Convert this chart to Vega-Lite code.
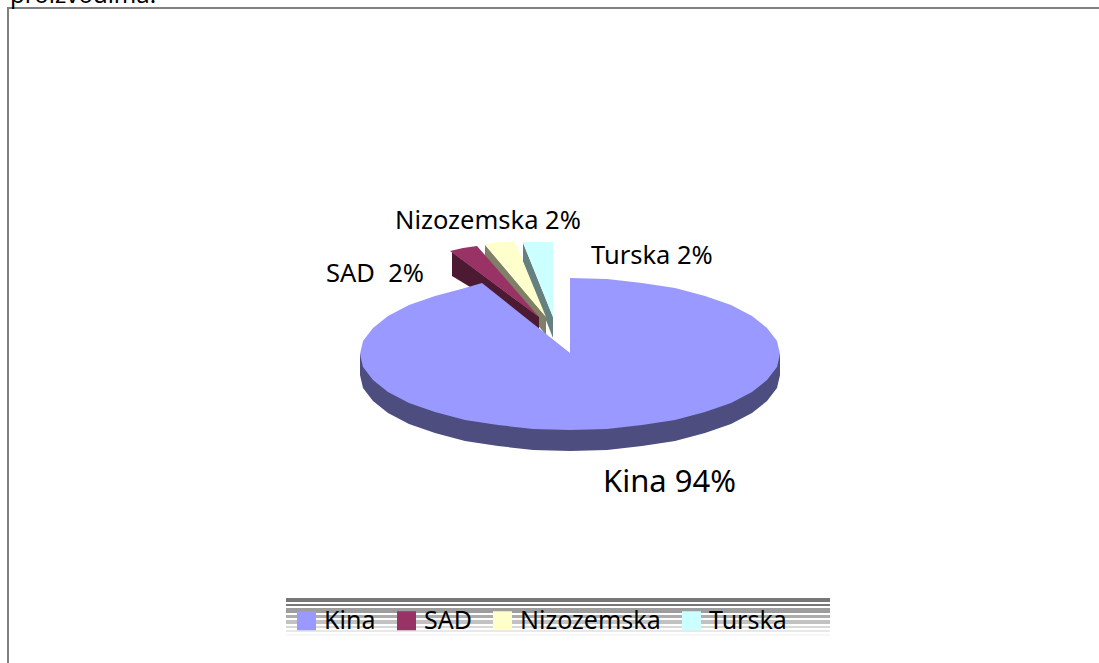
{"$schema":"https://vega.github.io/schema/vega-lite/v6.json","width":1099,"height":663,"padding":0,"autosize":"none","background":"white","config":{"view":{"stroke":null}},
"datasets":{
"frame":[{"x":-562,"y":-309},{"x":-562,"y":346},{"x":529,"y":346}],
"bands":[{"x":-284,"x2":260,"y":-244,"y2":-248,"shade":128},{"x":-284,"x2":260,"y":-250,"y2":-252,"shade":128},{"x":-284,"x2":260,"y":-254,"y2":-259,"shade":165},{"x":-284,"x2":260,"y":-261,"y2":-264,"shade":180},{"x":-284,"x2":260,"y":-266,"y2":-270,"shade":200},{"x":-284,"x2":260,"y":-272,"y2":-274,"shade":220},{"x":-284,"x2":260,"y":-276,"y2":-278,"shade":235},{"x":-284,"x2":260,"y":-280,"y2":-282,"shade":248}],
"wedges":[
{"face":"Turska strana","i":1,"x":-47,"y":111},{"face":"Turska strana","i":2,"x":-17,"y":37},{"face":"Turska strana","i":3,"x":-17,"y":16},{"face":"Turska strana","i":4,"x":-47,"y":92},
{"face":"Nizozemska strana","i":1,"x":-85,"y":109},{"face":"Nizozemska strana","i":2,"x":-24,"y":37},{"face":"Nizozemska strana","i":3,"x":-24,"y":19},{"face":"Nizozemska strana","i":4,"x":-85,"y":92},
{"face":"SAD strana","i":1,"x":-118,"y":102},{"face":"SAD strana","i":2,"x":-31,"y":37},{"face":"SAD strana","i":3,"x":-31,"y":25},{"face":"SAD strana","i":4,"x":-118,"y":78},
{"face":"Turska","i":1,"x":-47,"y":112},{"face":"Turska","i":2,"x":-17,"y":112},{"face":"Turska","i":3,"x":-17,"y":37},
{"face":"Nizozemska","i":1,"x":-85,"y":110},{"face":"Nizozemska","i":2,"x":-70,"y":112},{"face":"Nizozemska","i":3,"x":-55,"y":112},{"face":"Nizozemska","i":4,"x":-24,"y":37},
{"face":"SAD","i":1,"x":-120,"y":103},{"face":"SAD","i":2,"x":-107,"y":106},{"face":"SAD","i":3,"x":-93,"y":108},{"face":"SAD","i":4,"x":-31,"y":37}
],
"kinaSide":[{"i":1,"x":210,"y":0},{"i":2,"x":210,"y":-21},{"i":3,"x":207,"y":-34},{"i":4,"x":197,"y":-47},{"i":5,"x":182,"y":-59},{"i":6,"x":161,"y":-70},{"i":7,"x":135,"y":-79},{"i":8,"x":105,"y":-87},{"i":9,"x":72,"y":-92},{"i":10,"x":37,"y":-96},{"i":11,"x":0,"y":-97},{"i":12,"x":-37,"y":-96},{"i":13,"x":-72,"y":-92},{"i":14,"x":-105,"y":-87},{"i":15,"x":-135,"y":-79},{"i":16,"x":-161,"y":-70},{"i":17,"x":-182,"y":-59},{"i":18,"x":-197,"y":-47},{"i":19,"x":-207,"y":-34},{"i":20,"x":-210,"y":-21},{"i":21,"x":-210,"y":0}],
"kinaTop":[{"i":1,"x":0,"y":76},{"i":2,"x":37,"y":75},{"i":3,"x":72,"y":71},{"i":4,"x":105,"y":66},{"i":5,"x":135,"y":58},{"i":6,"x":161,"y":49},{"i":7,"x":182,"y":38},{"i":8,"x":197,"y":26},{"i":9,"x":207,"y":13},{"i":10,"x":210,"y":0},{"i":11,"x":207,"y":-13},{"i":12,"x":197,"y":-26},{"i":13,"x":182,"y":-38},{"i":14,"x":161,"y":-49},{"i":15,"x":135,"y":-58},{"i":16,"x":105,"y":-66},{"i":17,"x":72,"y":-71},{"i":18,"x":37,"y":-75},{"i":19,"x":0,"y":-76},{"i":20,"x":-37,"y":-75},{"i":21,"x":-72,"y":-71},{"i":22,"x":-105,"y":-66},{"i":23,"x":-135,"y":-58},{"i":24,"x":-161,"y":-49},{"i":25,"x":-182,"y":-38},{"i":26,"x":-197,"y":-26},{"i":27,"x":-207,"y":-13},{"i":28,"x":-210,"y":0},{"i":29,"x":-207,"y":13},{"i":30,"x":-197,"y":26},{"i":31,"x":-182,"y":38},{"i":32,"x":-161,"y":49},{"i":33,"x":-135,"y":58},{"i":34,"x":-105,"y":66},{"i":35,"x":-88,"y":71},{"i":36,"x":0,"y":1}],
"labels":[{"label":"Nizozemska 2%","x":-175,"y":133,"size":"m"},{"label":"SAD\u00a0 2%","x":-244,"y":80,"size":"m"},{"label":"Turska 2%","x":21,"y":98,"size":"m"},{"label":"Kina 94%","x":33,"y":-129,"size":"l"}],
"clipped":[{"label":"proizvodima.","x":-560,"y":351}]
},
"layer":[
{"data":{"name":"frame"},"mark":{"type":"line","stroke":"#808080","strokeWidth":2,"clip":true},"encoding":{"x":{"field":"x","type":"quantitative","scale":{"domain":[-570,529],"nice":false,"zero":false},"axis":null},"y":{"field":"y","type":"quantitative","scale":{"domain":[-309,354],"nice":false,"zero":false},"axis":null},"order":{"field":"y","sort":"ascending"}}},
{"data":{"name":"bands"},"mark":{"type":"rect"},"encoding":{"x":{"field":"x","type":"quantitative"},"x2":{"field":"x2"},"y":{"field":"y","type":"quantitative"},"y2":{"field":"y2"},"fill":{"field":"shade","type":"quantitative","legend":null,"scale":{"domain":[0,255],"range":["#000000","#ffffff"]}}}},
{"data":{"name":"wedges"},"mark":{"type":"line","filled":true,"interpolate":"linear-closed"},"encoding":{"x":{"field":"x","type":"quantitative"},"y":{"field":"y","type":"quantitative"},"order":{"field":"i"},
"color":{"field":"face","type":"nominal","scale":{"domain":["Kina","SAD","Nizozemska","Turska","Kina strana","SAD strana","Nizozemska strana","Turska strana"],"range":["#9999FF","#993366","#FFFFCC","#CCFFFF","#4D4D80","#4D1A33","#808066","#668080"]},"legend":{"values":["Kina","SAD","Nizozemska","Turska"],"title":null,"orient":"none","legendX":294,"legendY":608,"direction":"horizontal","columns":4,"gridAlign":"each","columnPadding":18,"symbolType":"square","symbolSize":361,"symbolStrokeWidth":0,"labelFont":"Noto Sans","labelFontSize":25,"labelColor":"#000000","labelOffset":5,"labelExpr":"datum.label === 'Nizozemska' ? 'Nizozemska\u00a0\u00a0' : datum.label","zindex":1}}}},
{"data":{"name":"kinaSide"},"mark":{"type":"line","filled":true,"interpolate":"linear-closed","fill":"#4D4D80","stroke":null},"encoding":{"x":{"field":"x","type":"quantitative"},"y":{"field":"y","type":"quantitative"},"order":{"field":"i"}}},
{"data":{"name":"kinaTop"},"mark":{"type":"line","filled":true,"interpolate":"linear-closed","fill":"#9999FF","stroke":null},"encoding":{"x":{"field":"x","type":"quantitative"},"y":{"field":"y","type":"quantitative"},"order":{"field":"i"}}},
{"data":{"name":"labels"},"mark":{"type":"text","align":"left","baseline":"middle","font":"Noto Sans","color":"#000000"},"encoding":{"x":{"field":"x","type":"quantitative"},"y":{"field":"y","type":"quantitative"},"text":{"field":"label"},"size":{"field":"size","type":"nominal","legend":null,"scale":{"domain":["m","l"],"range":[25.5,31]}}}},
{"data":{"name":"clipped"},"mark":{"type":"text","align":"left","baseline":"alphabetic","font":"Noto Sans","fontSize":24,"color":"#000000"},"encoding":{"x":{"field":"x","type":"quantitative"},"y":{"field":"y","type":"quantitative"},"text":{"field":"label"}}}
]}
